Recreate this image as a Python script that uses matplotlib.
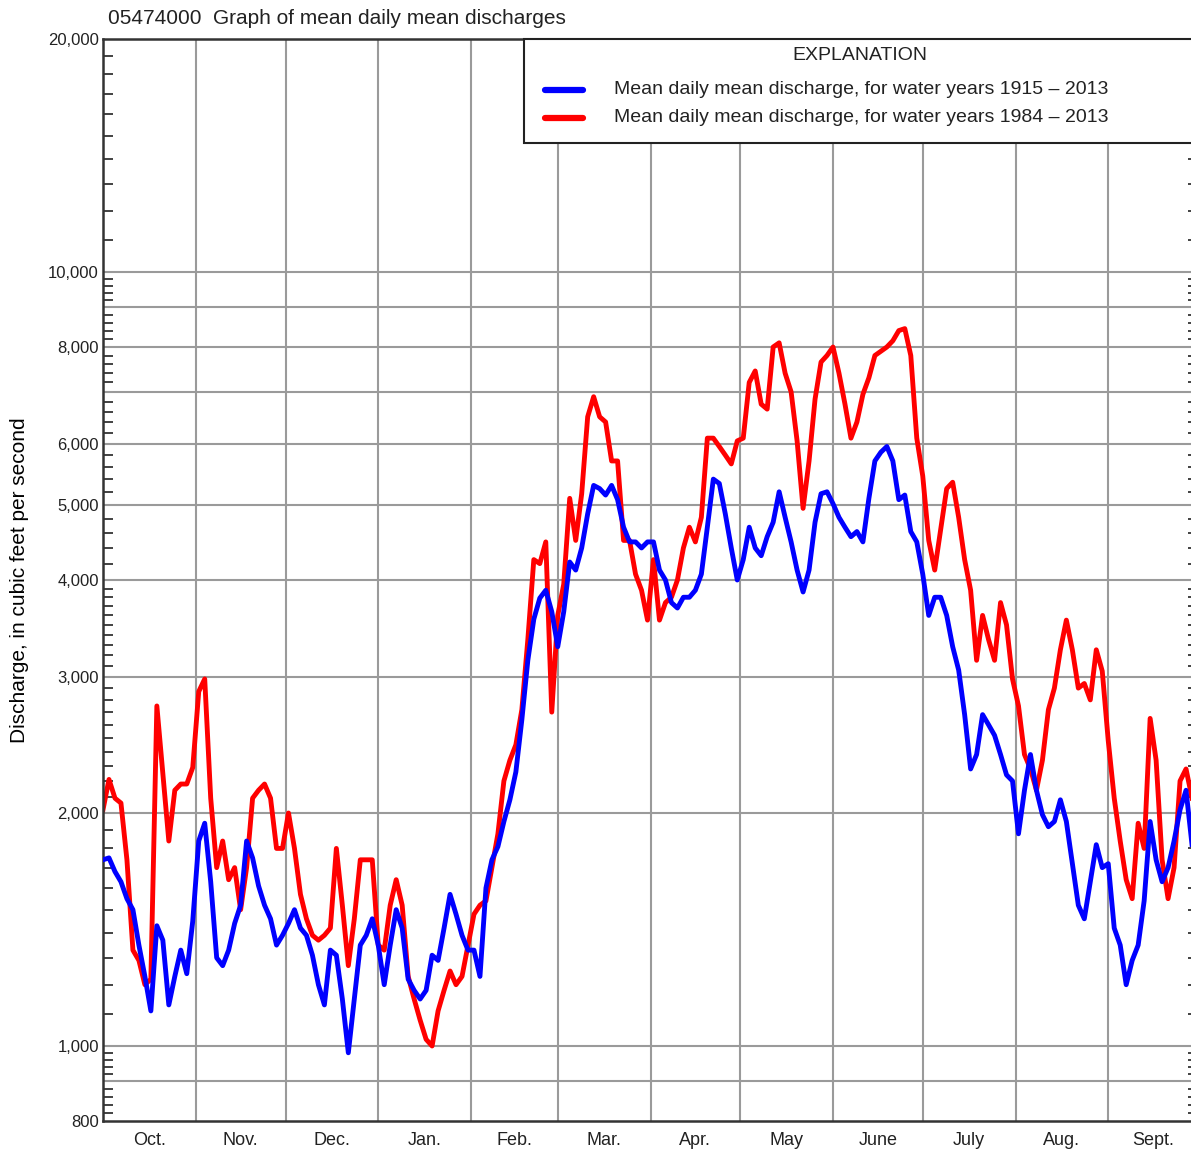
import numpy as np
import matplotlib
matplotlib.use("Agg")
import matplotlib.pyplot as plt
from matplotlib.ticker import FixedLocator, NullFormatter

plt.rcParams['font.family'] = ['Liberation Sans Narrow', 'Liberation Sans', 'DejaVu Sans']

# day of water year (Oct 1 = 0), sampled every 2 days
days = list(range(0, 366, 2))

# mean daily mean discharge, water years 1915-2013 (cfs)
blue_q = [1740, 1750, 1680, 1630, 1550, 1500, 1350, 1230, 1110, 1430,
          1370, 1130, 1230, 1330, 1240, 1450, 1840, 1940, 1630, 1300,
          1270, 1330, 1440, 1520, 1840, 1750, 1610, 1520, 1460, 1350,
          1390, 1440, 1500, 1420, 1390, 1310, 1200, 1130, 1330, 1310,
          1150, 980, 1150, 1350, 1390, 1460, 1350, 1200, 1350, 1500,
          1420, 1220, 1180, 1150, 1180, 1310, 1290, 1420, 1570, 1480,
          1390, 1330, 1330, 1230, 1600, 1740, 1810, 1950, 2080, 2260,
          2640, 3150, 3560, 3790, 3880, 3640, 3280, 3640, 4220, 4120,
          4400, 4870, 5300, 5250, 5150, 5300, 5080, 4680, 4480, 4480,
          4400, 4480, 4480, 4120, 4000, 3740, 3680, 3800, 3800, 3880,
          4070, 4680, 5400, 5330, 4870, 4400, 4000, 4250, 4680, 4400,
          4300, 4550, 4750, 5200, 4820, 4480, 4120, 3860, 4120, 4750,
          5170, 5200, 5020, 4820, 4680, 4550, 4620, 4480, 5100, 5700,
          5850, 5950, 5700, 5080, 5150, 4620, 4480, 4070, 3600, 3800,
          3800, 3600, 3280, 3060, 2680, 2280, 2380, 2680, 2600, 2520,
          2380, 2240, 2200, 1880, 2140, 2380, 2140, 1990, 1920, 1950,
          2080, 1950, 1720, 1520, 1460, 1630, 1820, 1700, 1720, 1420,
          1350, 1200, 1290, 1350, 1540, 1950, 1740, 1630, 1700, 1840,
          2020, 2140, 1820]

# mean daily mean discharge, water years 1984-2013 (cfs)
red_q = [2020, 2210, 2090, 2060, 1740, 1330, 1290, 1200, 1220, 2750,
         2250, 1840, 2140, 2180, 2180, 2290, 2870, 2980, 2090, 1700,
         1840, 1640, 1700, 1500, 1700, 2090, 2140, 2180, 2090, 1800,
         1800, 2000, 1800, 1570, 1460, 1390, 1370, 1390, 1420, 1800,
         1520, 1270, 1460, 1740, 1740, 1740, 1350, 1330, 1520, 1640,
         1520, 1230, 1150, 1080, 1020, 1000, 1110, 1180, 1250, 1200,
         1230, 1350, 1480, 1520, 1540, 1700, 1880, 2200, 2340, 2450,
         2720, 3350, 4250, 4200, 4480, 2700, 3600, 3950, 5100, 4500,
         5170, 6500, 6900, 6500, 6400, 5700, 5700, 4500, 4500, 4070,
         3880, 3550, 4250, 3550, 3740, 3800, 4000, 4400, 4680, 4480,
         4820, 6100, 6100, 5950, 5800, 5650, 6050, 6100, 7200, 7450,
         6750, 6650, 8000, 8100, 7400, 7000, 6050, 4950, 5700, 6850,
         7650, 7800, 8000, 7400, 6750, 6100, 6400, 6950, 7300, 7800,
         7900, 8000, 8150, 8400, 8450, 7800, 6100, 5450, 4500, 4120,
         4650, 5250, 5350, 4820, 4250, 3880, 3150, 3600, 3350, 3150,
         3740, 3500, 2980, 2750, 2380, 2280, 2140, 2340, 2720, 2900,
         3250, 3550, 3250, 2900, 2940, 2800, 3250, 3050, 2480, 2090,
         1840, 1640, 1550, 1940, 1800, 2650, 2340, 1740, 1550, 1700,
         2200, 2280, 2090]

month_names = ['Oct.', 'Nov.', 'Dec.', 'Jan.', 'Feb.', 'Mar.', 'Apr.',
               'May', 'June', 'July', 'Aug.', 'Sept.']
month_len = [31, 30, 31, 31, 29, 31, 30, 31, 30, 31, 31, 30]

y_labels = [800, 1000, 2000, 3000, 4000, 5000, 6000, 8000, 10000, 20000]
y_grid = [900, 1000, 2000, 3000, 4000, 5000, 6000, 7000, 8000, 9000, 10000]

fig = plt.figure(figsize=(11.91, 11.57), dpi=100)
ax = fig.add_axes([103 / 1191, 1 - 1121 / 1157, 1095 / 1191, 1082 / 1157])

ax.set_yscale('log')
ax.set_xlim(0, 366)
ax.set_ylim(800, 20000)

# grid
starts = np.cumsum([0] + month_len)
for s in starts[1:-1]:
    ax.axvline(s, color='#9a9a9a', lw=1.5, zorder=1)
for g in y_grid:
    ax.axhline(g, color='#9a9a9a', lw=1.5, zorder=1)

ax.plot(days, blue_q, color='#0000ff', lw=3.5, zorder=3, solid_joinstyle='round')
ax.plot(days, red_q, color='#ff0000', lw=3.5, zorder=2, solid_joinstyle='round')

# y ticks
ax.yaxis.set_major_locator(FixedLocator(y_labels))
ax.set_yticklabels([f'{v:,}' for v in y_labels], fontsize=12, color='#222222')
minor = list(range(820, 1000, 20)) + list(range(1100, 4000, 100)) + \
        list(range(4200, 10000, 200)) + list(range(11000, 20000, 1000))
minor = [m for m in minor if m not in y_grid]
ax.yaxis.set_minor_locator(FixedLocator(minor))
ax.yaxis.set_minor_formatter(NullFormatter())
ax.tick_params(axis='y', which='major', length=0, pad=3)
ax.tick_params(axis='y', which='minor', direction='in', length=7, width=1.2,
               left=True, right=True, color='#222222')

# x ticks at month centres
centres = [s + n / 2 for s, n in zip(starts[:-1], month_len)]
ax.set_xticks(centres)
ax.set_xticklabels(month_names, fontsize=13, color='#222222')
ax.tick_params(axis='x', length=0, pad=8)

for side in ['left', 'bottom', 'top', 'right']:
    ax.spines[side].set_color('#333333')
    ax.spines[side].set_linewidth(1.8)

ax.set_ylabel('Discharge, in cubic feet per second', fontsize=15, labelpad=14)
fig.text(108 / 1191, 1 - 18 / 1157, '05474000  Graph of mean daily mean discharges',
         fontsize=15, va='center', ha='left', color='#222222')

# explanation box
bx0 = (524 - 103) / 1095
by0 = (1121 - 143) / 1082
box = plt.Rectangle((bx0, by0), 1.02 - bx0, 1 - by0, transform=ax.transAxes,
                    facecolor='white', edgecolor='#222222', lw=1.5, zorder=5,
                    clip_on=False)
ax.add_patch(box)
ax.text((860 - 103) / 1095, (1121 - 55) / 1082, 'EXPLANATION', transform=ax.transAxes,
        ha='center', va='center', fontsize=14, zorder=6, color='#222222')
labels = ['Mean daily mean discharge, for water years 1915 \u2013 2013',
          'Mean daily mean discharge, for water years 1984 \u2013 2013']
for lab, col, yy in zip(labels, ['#0000ff', '#ff0000'], [90, 118]):
    ya = (1121 - yy) / 1082
    ax.plot([(545 - 103) / 1095, (583 - 103) / 1095], [ya, ya], transform=ax.transAxes,
            color=col, lw=4.5, solid_capstyle='round', zorder=6, clip_on=False)
    ax.text((614 - 103) / 1095, ya, lab, transform=ax.transAxes, ha='left',
            va='center', fontsize=14, zorder=6, color='#222222')

fig.savefig('out.png', dpi=100)
